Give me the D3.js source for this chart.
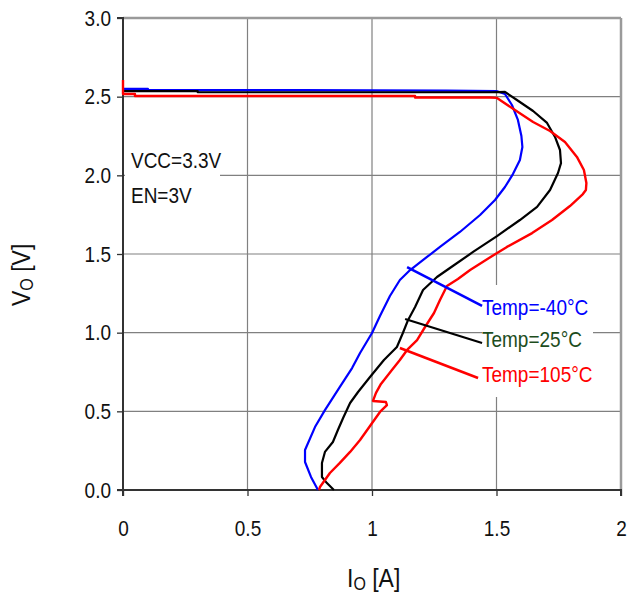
<!DOCTYPE html>
<html>
<head>
<meta charset="utf-8">
<script src="https://cdn.jsdelivr.net/npm/d3@7"></script>
<style>
  html, body { margin: 0; padding: 0; background: #fff; }
  svg { display: block; font-family: "Liberation Sans", Arial, sans-serif; }
</style>
</head>
<body>
<svg id="chart" width="630" height="596"></svg>
<script>
// ---- data ----
const xTicks = [0, 0.5, 1, 1.5, 2];
const xTickLabels = ["0", "0.5", "1", "1.5", "2"];
const yTicks = [0, 0.5, 1, 1.5, 2, 2.5, 3];
const yTickLabels = ["0.0", "0.5", "1.0", "1.5", "2.0", "2.5", "3.0"];

const seriesNames = ["Temp=-40°C", "Temp=25°C", "Temp=105°C"];

const blueI = [0, 0.10, 0.10, 0.71, 1.30, 1.50, 1.534, 1.562, 1.586, 1.600, 1.604, 1.594, 1.566, 1.534, 1.494, 1.434, 1.353, 1.273, 1.221, 1.153, 1.112, 1.072, 1.032, 1.000, 0.952, 0.920, 0.871, 0.811, 0.771, 0.731, 0.731, 0.755, 0.783];
const blueV = [2.55, 2.55, 2.542, 2.542, 2.538, 2.536, 2.517, 2.447, 2.352, 2.250, 2.180, 2.097, 2.008, 1.926, 1.843, 1.748, 1.640, 1.545, 1.481, 1.398, 1.335, 1.233, 1.106, 0.998, 0.871, 0.775, 0.655, 0.508, 0.400, 0.254, 0.178, 0.083, 0];

const blackI = [0, 0.30, 0.30, 1.48, 1.534, 1.582, 1.647, 1.703, 1.735, 1.755, 1.759, 1.747, 1.715, 1.663, 1.594, 1.502, 1.406, 1.313, 1.261, 1.205, 1.173, 1.145, 1.124, 1.100, 1.048, 0.992, 0.944, 0.912, 0.884, 0.863, 0.843, 0.811, 0.799, 0.799, 0.819, 0.847];
const blackV = [2.535, 2.535, 2.528, 2.528, 2.530, 2.479, 2.409, 2.333, 2.244, 2.161, 2.078, 2.015, 1.907, 1.799, 1.716, 1.614, 1.513, 1.411, 1.354, 1.271, 1.163, 1.081, 0.998, 0.909, 0.826, 0.718, 0.623, 0.553, 0.458, 0.381, 0.305, 0.242, 0.172, 0.083, 0.044, 0];

const redI = [0, 0, 0.048, 0.048, 1.173, 1.173, 1.474, 1.502, 1.574, 1.647, 1.715, 1.775, 1.823, 1.851, 1.861, 1.859, 1.847, 1.795, 1.723, 1.643, 1.542, 1.470, 1.394, 1.345, 1.301, 1.273, 1.249, 1.213, 1.181, 1.141, 1.112, 1.080, 1.036, 1.016, 1.004, 1.056, 1.060, 1.032, 0.992, 0.952, 0.912, 0.871, 0.831, 0.791, 0.787];
const redV = [2.606, 2.517, 2.517, 2.504, 2.504, 2.495, 2.495, 2.492, 2.415, 2.339, 2.282, 2.212, 2.117, 2.034, 1.951, 1.907, 1.881, 1.805, 1.716, 1.633, 1.545, 1.475, 1.398, 1.341, 1.297, 1.208, 1.125, 1.036, 0.953, 0.890, 0.826, 0.763, 0.674, 0.617, 0.566, 0.559, 0.540, 0.496, 0.407, 0.318, 0.242, 0.172, 0.108, 0.019, 0];

// leader lines for labels [I0, V0, I1, V1]
const leaderBlue = [1.141, 1.417, 1.442, 1.170];
const leaderBlack = [1.133, 1.087, 1.442, 0.934];
const leaderRed = [1.112, 0.902, 1.426, 0.712];

// ---- layout ----
const W = 630, H = 596;
const m = { left: 123, right: 9, top: 18, bottom: 106 };
const svg = d3.select("#chart");
const x = d3.scaleLinear().domain([0, 2]).range([m.left, W - m.right]);
const y = d3.scaleLinear().domain([0, 3]).range([H - m.bottom, m.top]);

const stretch = 1.12;
function txt(g, xx, yy, s, opts = {}) {
  const t = g.append("text")
    .attr("transform", `translate(${xx},${yy}) scale(1,${stretch})`)
    .attr("font-size", opts.size || 19)
    .attr("fill", opts.fill || "#000")
    .attr("text-anchor", opts.anchor || "start");
  t.text(s);
  return t;
}

// gridlines
const grid = svg.append("g");
grid.selectAll("line.gx").data(xTicks.filter(d => d > 0 && d < 2)).join("line")
  .attr("x1", d => x(d)).attr("x2", d => x(d))
  .attr("y1", y(0)).attr("y2", y(3))
  .attr("stroke", "#808080").attr("stroke-width", 1.2);
grid.selectAll("line.gy").data(yTicks.filter(d => d > 0 && d < 3)).join("line")
  .attr("x1", x(0)).attr("x2", x(2))
  .attr("y1", d => y(d)).attr("y2", d => y(d))
  .attr("stroke", "#808080").attr("stroke-width", 1.2);
// top & right frame
svg.append("line").attr("x1", x(0)).attr("x2", x(2)).attr("y1", y(3)).attr("y2", y(3))
  .attr("stroke", "#9a9a9a").attr("stroke-width", 2.5);
svg.append("line").attr("x1", x(2)).attr("x2", x(2)).attr("y1", y(3)).attr("y2", y(0))
  .attr("stroke", "#9a9a9a").attr("stroke-width", 2.5);

// white boxes behind annotation texts
svg.append("rect").attr("x", x(0) + 2).attr("y", 148).attr("width", 220 - x(0) - 2).attr("height", 60).attr("fill", "#fff");
svg.append("rect").attr("x", 482).attr("y", 285).attr("width", 111).attr("height", 112).attr("fill", "#fff");

// axes
const xAxis = d3.axisBottom(x).tickValues(xTicks).tickFormat((d, i) => xTickLabels[i]).tickSize(6);
const yAxis = d3.axisLeft(y).tickValues(yTicks).tickFormat((d, i) => yTickLabels[i]).tickSize(6);
const gx = svg.append("g").attr("transform", `translate(0,${y(0)})`).call(xAxis);
const gy = svg.append("g").attr("transform", `translate(${x(0)},0)`).call(yAxis);
[gx, gy].forEach(g => {
  g.select(".domain").attr("stroke", "#333").attr("stroke-width", 2);
  g.selectAll(".tick line").attr("stroke", "#333").attr("stroke-width", 1.3);
  g.selectAll(".tick text").attr("font-size", 19).attr("fill", "#111")
    .attr("font-family", "'Liberation Sans', Arial, sans-serif");
});
gx.select(".domain").attr("d", `M${x(0)},6V0H${x(2)}V6`);
gy.select(".domain").attr("d", `M-6,${y(3)}H0V${y(0)}H-6`);
gy.selectAll(".tick text")
  .attr("transform", `scale(1,${stretch})`).attr("y", 0).attr("dy", "0.34em").attr("x", -12);
gx.selectAll(".tick text")
  .attr("transform", `translate(0,46) scale(1,${stretch})`).attr("y", 0).attr("dy", 0);

// curves
const line = d3.line().x(d => x(d[0])).y(d => y(d[1]));
const series = [
  { I: blueI, V: blueV, color: "#0000ff", w: 2.2 },
  { I: blackI, V: blackV, color: "#000000", w: 2.2 },
  { I: redI, V: redV, color: "#ff0000", w: 2.4 }
];
series.forEach(s => {
  const pts = s.I.map((v, i) => [v, s.V[i]]);
  svg.append("path").attr("d", line(pts)).attr("fill", "none")
    .attr("stroke", s.color).attr("stroke-width", s.w)
    .attr("stroke-linejoin", "round").attr("stroke-linecap", "butt");
});

// leader lines
[[leaderBlue, "#0000ff", 2.6], [leaderBlack, "#000", 2.2], [leaderRed, "#ff0000", 2.6]].forEach(([L, c, w]) => {
  svg.append("line").attr("x1", x(L[0])).attr("y1", y(L[1])).attr("x2", x(L[2])).attr("y2", y(L[3]))
    .attr("stroke", c).attr("stroke-width", w);
});

// legend labels
const ann = svg.append("g");
txt(ann, 482, 315, seriesNames[0], { fill: "#0000ff" });
txt(ann, 482, 347, seriesNames[1], { fill: "#1d4d1d" });
txt(ann, 482, 382, seriesNames[2], { fill: "#ff0000" });

// condition text
txt(ann, 131, 168, "VCC=3.3V", { fill: "#111" });
txt(ann, 131, 203, "EN=3V", { fill: "#111" });

// axis titles
const xt = ann.append("text").attr("transform", `translate(347,587) scale(1,${stretch})`)
  .attr("font-size", 23).attr("fill", "#111");
xt.append("tspan").text("I");
xt.append("tspan").attr("font-size", 16).attr("dy", 3).text("O");
xt.append("tspan").attr("dy", -3).text(" [A]");

const yt = ann.append("text").attr("transform", `translate(30,306) rotate(-90) scale(1,${stretch})`)
  .attr("font-size", 23).attr("fill", "#111");
yt.append("tspan").text("V");
yt.append("tspan").attr("font-size", 16).attr("dy", 3).text("O");
yt.append("tspan").attr("dy", -3).text(" [V]");
</script>
</body>
</html>
